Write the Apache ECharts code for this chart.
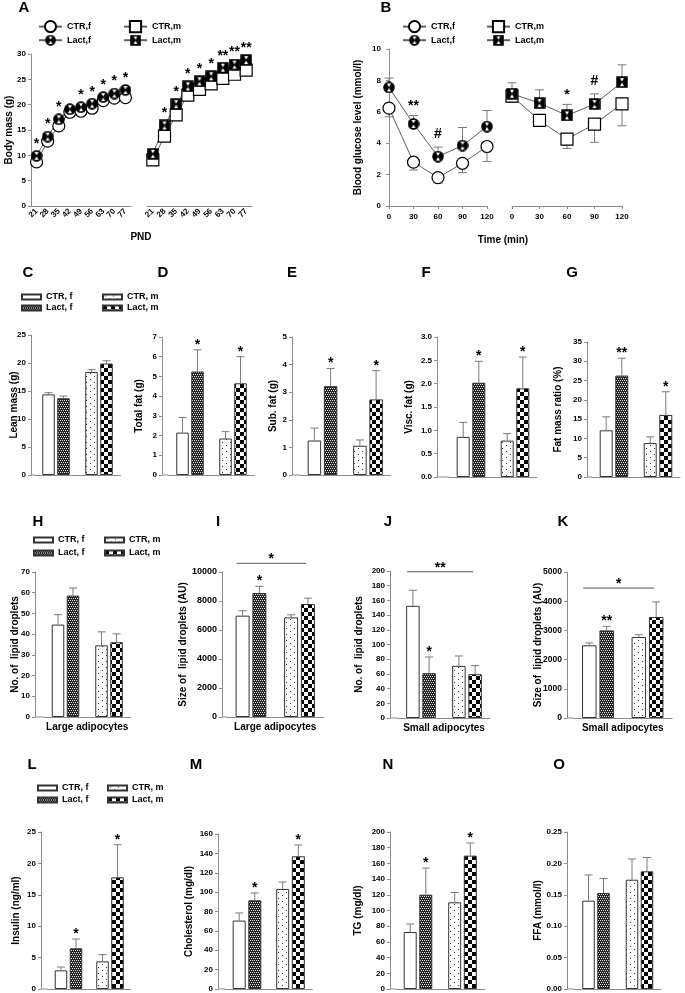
<!DOCTYPE html>
<html><head><meta charset="utf-8">
<script src="https://cdn.jsdelivr.net/npm/echarts@6/dist/echarts.min.js"></script>
<style>html,body{margin:0;padding:0;background:#fff}#c{width:685px;height:993px}</style>
</head><body><div id="c"></div>
<script>
// ================= DATA =================
// Panel A: body mass (g) by postnatal day
const pnd = ['21','28','35','42','49','56','63','70','77'];
const massCtrF  = [8.7, 12.8, 15.8, 18.5, 18.7, 19.3, 20.8, 21.3, 21.4];
const massLactF = [9.9, 13.7, 17.1, 19.1, 19.5, 20.2, 21.5, 22.2, 22.9];
const massCtrM  = [9.1, 13.8, 18.0, 21.9, 23.0, 24.1, 25.2, 26.0, 26.8];
const massLactM = [10.3, 15.9, 20.1, 23.6, 24.6, 25.6, 27.3, 27.9, 28.8];
const sigMassF = ['*','*','*','','*','*','*','*','*'];
const sigMassM = ['','*','*','*','*','*','**','**','**'];

// Panel B: blood glucose (mmol/l) over time (min)
const gttTime = [0, 30, 60, 90, 120];
const gluCtrF     = [6.23, 2.79, 1.81, 2.72, 3.79];
const gluCtrFErr  = [0.55, 0.50, 0.35, 0.60, 0.95];
const gluLactF    = [7.55, 5.23, 3.15, 3.85, 5.06];
const gluLactFErr = [0.60, 0.53, 0.60, 1.15, 1.02];
const gluCtrM     = [7.00, 5.45, 4.26, 5.21, 6.51];
const gluCtrMErr  = [0.40, 0.15, 0.60, 1.15, 1.40];
const gluLactM    = [7.15, 6.55, 5.77, 6.49, 7.89];
const gluLactMErr = [0.70, 0.85, 0.70, 0.65, 1.10];
const sigGluF = ['', '**', '#', '', ''];
const sigGluM = ['', '', '*', '#', ''];

// Bar panels: index 0 = female, 1 = male
const sexGroups = ['f', 'm'];
const leanCtr = [14.4, 18.4],  leanCtrErr = [0.3, 0.4],  leanLact = [13.7, 19.9], leanLactErr = [0.4, 0.5], leanSig = ['', ''];
const totCtr = [2.15, 1.85],   totCtrErr = [0.77, 0.35], totLact = [5.25, 4.65],  totLactErr = [1.1, 1.35], totSig = ['*', '*'];
const subCtr = [1.25, 1.06],   subCtrErr = [0.45, 0.21], subLact = [3.22, 2.74],  subLactErr = [0.64, 1.04], subSig = ['*', '*'];
const viscCtr = [0.86, 0.78],  viscCtrErr = [0.31, 0.15], viscLact = [2.02, 1.90], viscLactErr = [0.46, 0.67], viscSig = ['*', '*'];
const ratioCtr = [12.1, 8.8],  ratioCtrErr = [3.5, 1.6], ratioLact = [26.3, 16.1], ratioLactErr = [4.5, 6.0], ratioSig = ['**', '*'];
const nLargeCtr = [44.6, 34.6], nLargeCtrErr = [4.8, 6.5], nLargeLact = [58.6, 36.1], nLargeLactErr = [3.7, 4.0], nLargeSig = ['', ''];
const sLargeCtr = [6990, 6870], sLargeCtrErr = [340, 180], sLargeLact = [8550, 7790], sLargeLactErr = [460, 410], sLargeSig = ['*', ''];
const sLargeBracket = 10600, sLargeBracketSig = '*';
const nSmallCtr = [152.6, 70.9], nSmallCtrErr = [21.2, 13.5], nSmallLact = [61.0, 59.6], nSmallLactErr = [22.0, 11.7], nSmallSig = ['*', ''];
const nSmallBracket = 199, nSmallBracketSig = '**';
const sSmallCtr = [2490, 2775], sSmallCtrErr = [80, 80], sSmallLact = [3000, 3460], sSmallLactErr = [137, 515], sSmallSig = ['**', ''];
const sSmallBracket = 4450, sSmallBracketSig = '*';
const insCtr = [2.97, 4.4],    insCtrErr = [0.53, 1.07], insLact = [6.48, 17.78], insLactErr = [1.48, 5.2], insSig = ['*', '*'];
const cholCtr = [70.6, 103.3], cholCtrErr = [7.9, 7.2],  cholLact = [91.6, 137.0], cholLactErr = [7.5, 11.7], cholSig = ['*', '*'];
const tgCtr = [72.6, 110.4],   tgCtrErr = [10.2, 12.6],  tgLact = [120.2, 169.9], tgLactErr = [33.8, 16.1], tgSig = ['*', '*'];
const ffaCtr = [0.1406, 0.174], ffaCtrErr = [0.041, 0.033], ffaLact = [0.1529, 0.1874], ffaLactErr = [0.023, 0.022], ffaSig = ['', ''];

// ================= STYLE HELPERS =================
const FONT = 'Liberation Sans';
const AX = '#8c8c8c';
const ERR = '#7a7a7a';
const txt = (s) => ({ fontSize: s, fontWeight: 'bold', fontFamily: FONT, color: '#000' });

function tile(w, h, draw) {
  const c = document.createElement('canvas'); c.width = w; c.height = h;
  const g = c.getContext('2d'); draw(g); return c;
}
const patLactF = tile(4, 4, g => {
  g.fillStyle = '#262626'; g.fillRect(0, 0, 4, 4);
  g.fillStyle = '#e0e0e0'; g.fillRect(0, 0, 1, 1); g.fillRect(2, 0, 1, 1); g.fillRect(1, 2, 1, 1); g.fillRect(3, 2, 1, 1);
});
const patCtrM = tile(8, 6, g => {
  g.fillStyle = '#fff'; g.fillRect(0, 0, 8, 6);
  g.fillStyle = '#333'; g.fillRect(2, 1, 1, 1); g.fillRect(6, 4, 1, 1);
});
const patLactM = tile(8, 8, g => {
  g.fillStyle = '#fff'; g.fillRect(0, 0, 8, 8);
  g.fillStyle = '#000'; g.fillRect(0, 0, 4, 4); g.fillRect(4, 4, 4, 4);
});
const FILL = {
  ctrF: '#ffffff',
  lactF: { image: patLactF, repeat: 'repeat' },
  ctrM: { image: patCtrM, repeat: 'repeat' },
  lactM: { image: patLactM, repeat: 'repeat' }
};

function symbolImg(shape) {
  const c = document.createElement('canvas'); c.width = 24; c.height = 24;
  const g = c.getContext('2d');
  g.fillStyle = '#000';
  if (shape === 'circle') { g.beginPath(); g.arc(12, 12, 11.5, 0, Math.PI * 2); g.fill(); }
  else { g.fillRect(0.5, 0.5, 23, 23); }
  g.fillStyle = '#fff';
  g.beginPath(); g.moveTo(8, 4); g.lineTo(16, 4); g.lineTo(12, 11); g.closePath(); g.fill();
  g.beginPath(); g.moveTo(8, 20); g.lineTo(16, 20); g.lineTo(12, 13); g.closePath(); g.fill();
  return 'image://' + c.toDataURL();
}
const SYM_LACT_F = symbolImg('circle');
const SYM_LACT_M = symbolImg('square');

function starText(x, yCenter, s) {
  const isHash = s.indexOf('#') >= 0;
  return { type: 'text', x: x, y: yCenter + (isHash ? -1 : 3),
    style: { text: s, fontSize: 14, fontWeight: 'bold', fontFamily: FONT, fill: '#000', align: 'center', verticalAlign: 'middle' } };
}
function errItem(dir, dx, cap, sig, gap) {
  return function (params, api) {
    const x = api.value(0), v = api.value(1), e = api.value(2);
    const p0 = api.coord([x, v]), p1 = api.coord([x, v + dir * e]);
    const cx = p0[0] + dx;
    const ch = [];
    if (e > 0) {
      ch.push({ type: 'line', shape: { x1: cx, y1: p0[1], x2: cx, y2: p1[1] }, style: { stroke: ERR, lineWidth: 1 } });
      ch.push({ type: 'line', shape: { x1: cx - cap, y1: p1[1], x2: cx + cap, y2: p1[1] }, style: { stroke: ERR, lineWidth: 1 } });
    }
    const s = sig ? sig[params.dataIndex] : '';
    if (s) ch.push(starText(cx, Math.min(p0[1], p1[1]) - gap, s));
    return { type: 'group', children: ch };
  };
}

// ================= OPTION =================
const option = { animation: false, backgroundColor: '#fff', grid: [], xAxis: [], yAxis: [], series: [], legend: [], graphic: [] };
function addGrid(g) { option.grid.push(g); return option.grid.length - 1; }
function valueY(gi, o) {
  return Object.assign({
    gridIndex: gi, type: 'value', min: 0,
    axisLine: { show: true, lineStyle: { color: AX, width: 1 } },
    axisTick: { show: true, length: 3, lineStyle: { color: AX } },
    splitLine: { show: false },
    axisLabel: Object.assign(txt(8), { margin: 5, formatter: (v) => String(v) }),
    nameLocation: 'middle', nameMoveOverlap: false, nameTextStyle: txt(10)
  }, o);
}

// ---------- Panel A ----------
function massPanel(grid, ctr, lact, sig, names, syms, showY) {
  const gi = addGrid(grid);
  option.xAxis.push({ gridIndex: gi, type: 'category', data: pnd, boundaryGap: true,
    axisLine: { lineStyle: { color: AX } },
    axisTick: { alignWithLabel: true, length: 3, lineStyle: { color: AX } },
    axisLabel: Object.assign(txt(8), { rotate: 45, margin: 4, interval: 0 }) });
  option.yAxis.push(valueY(gi, { max: 30, interval: 5, show: showY, name: showY ? 'Body mass (g)' : '', nameGap: 17 }));
  const common = { type: 'line', xAxisIndex: gi, yAxisIndex: gi, symbolSize: 12, lineStyle: { color: '#606060', width: 1 }, emphasis: { disabled: true } };
  option.series.push(Object.assign({}, common, { name: names[0], data: ctr, symbol: syms[0], itemStyle: { color: '#fff', borderColor: '#000', borderWidth: 1.2 } }));
  option.series.push(Object.assign({}, common, { name: names[1], data: lact, symbol: syms[1], itemStyle: { color: '#000', borderColor: '#000' } }));
  option.series.push({ type: 'custom', xAxisIndex: gi, yAxisIndex: gi, z: 5,
    data: lact.map((v, i) => [i, v, 0]), renderItem: errItem(1, 0, 0, sig, 15) });
}
massPanel({ left: 31, top: 54, width: 100, height: 152 }, massCtrF, massLactF, sigMassF, ['CTR,f', 'Lact,f'], ['circle', SYM_LACT_F], true);
massPanel({ left: 147, top: 54, width: 105, height: 152 }, massCtrM, massLactM, sigMassM, ['CTR,m', 'Lact,m'], ['rect', SYM_LACT_M], false);

// ---------- Panel B ----------
function gluPanel(grid, ctr, ctrErr, lact, lactErr, sig, names, syms, showY) {
  const gi = addGrid(grid);
  option.xAxis.push({ gridIndex: gi, type: 'value', min: 0, max: 120, interval: 30,
    axisLine: { lineStyle: { color: AX } }, splitLine: { show: false },
    axisTick: { show: true, length: 3, lineStyle: { color: AX } },
    axisLabel: Object.assign(txt(8), { margin: 7 }) });
  option.yAxis.push(valueY(gi, { max: 10, interval: 2, show: showY, offset: 4,
    axisLabel: Object.assign(txt(8), { margin: 4 }),
    name: showY ? 'Blood glucose level (mmol/l)' : '', nameGap: 22 }));
  option.series.push({ type: 'custom', xAxisIndex: gi, yAxisIndex: gi, z: 1,
    data: gttTime.map((t, i) => [t, ctr[i], ctrErr[i]]), renderItem: errItem(-1, 0, 4.5, null, 0) });
  option.series.push({ type: 'custom', xAxisIndex: gi, yAxisIndex: gi, z: 1,
    data: gttTime.map((t, i) => [t, lact[i], lactErr[i]]), renderItem: errItem(1, 0, 4.5, sig, 12) });
  const common = { type: 'line', xAxisIndex: gi, yAxisIndex: gi, symbolSize: 12, z: 3, lineStyle: { color: '#606060', width: 1 }, emphasis: { disabled: true } };
  option.series.push(Object.assign({}, common, { name: names[0], data: gttTime.map((t, i) => [t, ctr[i]]), symbol: syms[0], itemStyle: { color: '#fff', borderColor: '#000', borderWidth: 1.2 } }));
  option.series.push(Object.assign({}, common, { name: names[1], data: gttTime.map((t, i) => [t, lact[i]]), symbol: syms[1], itemStyle: { color: '#000', borderColor: '#000' } }));
}
gluPanel({ left: 389, top: 49, width: 98, height: 157 }, gluCtrF, gluCtrFErr, gluLactF, gluLactFErr, sigGluF, ['CTR,f', 'Lact,f'], ['circle', SYM_LACT_F], true);
gluPanel({ left: 512, top: 49, width: 110, height: 157 }, gluCtrM, gluCtrMErr, gluLactM, gluLactMErr, sigGluM, ['CTR,m', 'Lact,m'], ['rect', SYM_LACT_M], false);

// line legends
function lineLegend(names, left, top) {
  option.legend.push({ data: names, left: left, top: top, orient: 'vertical', padding: 0, itemGap: 1,
    itemWidth: 23, itemHeight: 14, selectedMode: false, textStyle: Object.assign(txt(9), { lineHeight: 12 }) });
}
lineLegend(['CTR,f', 'Lact,f'], 38, 20);
lineLegend(['CTR,m', 'Lact,m'], 123, 20);
lineLegend(['CTR,f', 'Lact,f'], 402, 20);
lineLegend(['CTR,m', 'Lact,m'], 486, 20);

// ---------- Bar panels ----------
function barPanel(p) {
  const gi = addGrid({ left: p.left, top: p.top, width: p.width, height: p.height });
  option.xAxis.push({ gridIndex: gi, type: 'category', data: sexGroups,
    axisLine: { lineStyle: { color: AX } }, axisTick: { show: false }, axisLabel: { show: false },
    name: p.xName || '', nameLocation: 'middle', nameGap: 5, nameTextStyle: txt(10) });
  option.yAxis.push(valueY(gi, { max: p.max, interval: p.step, offset: p.yOff, name: p.name, nameGap: p.nameGap,
    axisLabel: Object.assign(txt(p.fs || 8), { margin: 5, formatter: p.fmt ? (v) => v.toFixed(p.fmt) : (v) => String(v) }) }));
  const bw = p.bw, off = bw * 0.6;
  const mk = (name, stack, data, color) => ({ type: 'bar', name: name, stack: stack + gi, data: data,
    xAxisIndex: gi, yAxisIndex: gi, barWidth: bw, barGap: '20%', emphasis: { disabled: true },
    itemStyle: { color: color, borderColor: '#333', borderWidth: 1 } });
  option.series.push(mk('CTR, f', 'c', [p.ctr[0], '-'], FILL.ctrF));
  option.series.push(mk('CTR, m', 'c', ['-', p.ctr[1]], FILL.ctrM));
  option.series.push(mk('Lact, f', 'l', [p.lact[0], '-'], FILL.lactF));
  option.series.push(mk('Lact, m', 'l', ['-', p.lact[1]], FILL.lactM));
  option.series.push({ type: 'custom', xAxisIndex: gi, yAxisIndex: gi, z: 4,
    data: p.ctr.map((v, i) => [i, v, p.ctrErr[i]]), renderItem: errItem(1, -off, 4, null, 0) });
  option.series.push({ type: 'custom', xAxisIndex: gi, yAxisIndex: gi, z: 4,
    data: p.lact.map((v, i) => [i, v, p.lactErr[i]]), renderItem: errItem(1, off, 4, p.sig, 8) });
  if (p.bracket !== undefined) {
    option.series.push({ type: 'custom', xAxisIndex: gi, yAxisIndex: gi, z: 4,
      data: [[0, p.bracket]],
      renderItem: function (params, api) {
        const y = api.value(1);
        const a = api.coord([0, y]), b = api.coord([1, y]);
        const x1 = a[0] - off - bw / 2 + 1, x2 = b[0] + off - 2;
        return { type: 'group', children: [
          { type: 'line', shape: { x1: x1, y1: a[1], x2: x2, y2: a[1] }, style: { stroke: '#555', lineWidth: 1 } },
          starText((x1 + x2) / 2, a[1] - 7, p.bracketSig)
        ] };
      } });
  }
  // extend x axis line back to the (offset) y axis
  const base = p.top + p.height;
  option.graphic.push({ type: 'line', shape: { x1: p.left - p.yOff, y1: base, x2: p.left, y2: base }, style: { stroke: AX, lineWidth: 1 }, silent: true });
}

// Row C-G
barPanel({ left: 34.5, top: 335, width: 86, height: 140, yOff: 3.5, bw: 12.5, max: 25, step: 5, name: 'Lean mass (g)', nameGap: 12,
  ctr: leanCtr, ctrErr: leanCtrErr, lact: leanLact, lactErr: leanLactErr, sig: leanSig });
barPanel({ left: 168.5, top: 337, width: 86, height: 138, yOff: 6.5, bw: 12.5, max: 7, step: 1, name: 'Total fat (g)', nameGap: 18,
  ctr: totCtr, ctrErr: totCtrErr, lact: totLact, lactErr: totLactErr, sig: totSig });
barPanel({ left: 299.75, top: 337, width: 91, height: 138, yOff: 7.75, bw: 13.5, max: 5, step: 1, name: 'Sub. fat (g)', nameGap: 14,
  ctr: subCtr, ctrErr: subCtrErr, lact: subLact, lactErr: subLactErr, sig: subSig });
barPanel({ left: 449, top: 337, width: 88, height: 140, yOff: 12, bw: 13, max: 3, step: 0.5, fmt: 1, name: 'Visc. fat (g)', nameGap: 23,
  ctr: viscCtr, ctrErr: viscCtrErr, lact: viscLact, lactErr: viscLactErr, sig: viscSig });
barPanel({ left: 592, top: 342, width: 88, height: 135, yOff: 5, bw: 13, max: 35, step: 5, name: 'Fat mass ratio (%)', nameGap: 24,
  ctr: ratioCtr, ctrErr: ratioCtrErr, lact: ratioLact, lactErr: ratioLactErr, sig: ratioSig });
// Row H-K
barPanel({ left: 43.75, top: 572, width: 87, height: 145, yOff: 8.75, bw: 12.5, max: 70, step: 10, name: 'No. of  lipid droplets', nameGap: 15,
  ctr: nLargeCtr, ctrErr: nLargeCtrErr, lact: nLargeLact, lactErr: nLargeLactErr, sig: nLargeSig, xName: 'Large adipocytes' });
barPanel({ left: 226.75, top: 572, width: 97, height: 145, yOff: 4.75, bw: 14, fs: 9, max: 10000, step: 2000, name: 'Size of  lipid droplets (AU)', nameGap: 34,
  ctr: sLargeCtr, ctrErr: sLargeCtrErr, lact: sLargeLact, lactErr: sLargeLactErr, sig: sLargeSig, xName: 'Large adipocytes',
  bracket: sLargeBracket, bracketSig: sLargeBracketSig });
barPanel({ left: 398, top: 571, width: 92, height: 147, yOff: 8, bw: 13.5, max: 200, step: 20, name: 'No. of  lipid droplets', nameGap: 26,
  ctr: nSmallCtr, ctrErr: nSmallCtrErr, lact: nSmallLact, lactErr: nSmallLactErr, sig: nSmallSig, xName: 'Small adipocytes',
  bracket: nSmallBracket, bracketSig: nSmallBracketSig });
barPanel({ left: 573.25, top: 572, width: 99, height: 146, yOff: 6.25, bw: 14.5, fs: 8.5, max: 5000, step: 1000, name: 'Size of  lipid droplets (AU)', nameGap: 24,
  ctr: sSmallCtr, ctrErr: sSmallCtrErr, lact: sSmallLact, lactErr: sSmallLactErr, sig: sSmallSig, xName: 'Small adipocytes',
  bracket: sSmallBracket, bracketSig: sSmallBracketSig });
// Row L-O
barPanel({ left: 47.75, top: 832, width: 83, height: 157, yOff: 6.75, bw: 12.5, max: 25, step: 5, name: 'Insulin (ng/ml)', nameGap: 20,
  ctr: insCtr, ctrErr: insCtrErr, lact: insLact, lactErr: insLactErr, sig: insSig });
barPanel({ left: 225.25, top: 834, width: 87, height: 155, yOff: 7.25, bw: 13, max: 160, step: 20, name: 'Cholesterol (mg/dl)', nameGap: 24,
  ctr: cholCtr, ctrErr: cholCtrErr, lact: cholLact, lactErr: cholLactErr, sig: cholSig });
barPanel({ left: 395.75, top: 832, width: 89, height: 157, yOff: 5.75, bw: 13, max: 200, step: 20, name: 'TG (mg/dl)', nameGap: 27,
  ctr: tgCtr, ctrErr: tgCtrErr, lact: tgLact, lactErr: tgLactErr, sig: tgSig });
barPanel({ left: 574.25, top: 832, width: 87, height: 157, yOff: 7.25, bw: 12.5, max: 0.25, step: 0.05, fmt: 2, name: 'FFA (mmol/l)', nameGap: 24,
  ctr: ffaCtr, ctrErr: ffaCtrErr, lact: ffaLact, lactErr: ffaLactErr, sig: ffaSig });

// bar legends
function barLegend(names, left, top, gap) {
  option.legend.push({ data: names, left: left, top: top, orient: 'vertical', padding: 0, itemGap: gap, icon: 'rect',
    itemWidth: 19, itemHeight: 5, selectedMode: false, textStyle: Object.assign(txt(9), { lineHeight: 10 }) });
}
barLegend(['CTR, f', 'Lact, f'], 21, 292, 1);
barLegend(['CTR, m', 'Lact, m'], 102, 292, 1);
barLegend(['CTR, f', 'Lact, f'], 33, 535, 3);
barLegend(['CTR, m', 'Lact, m'], 104, 535, 3);
barLegend(['CTR, f', 'Lact, f'], 37, 783, 2);
barLegend(['CTR, m', 'Lact, m'], 107, 783, 2);

// panel letters and shared axis titles
const letters = [['A', 24, 8], ['B', 386, 8], ['C', 28, 273], ['D', 163, 273], ['E', 292, 273], ['F', 426, 273], ['G', 572, 273],
  ['H', 38, 522], ['I', 218, 522], ['J', 388, 522], ['K', 563, 522], ['L', 32, 765], ['M', 196, 765], ['N', 388, 765], ['O', 559, 765]];
letters.forEach(l => option.graphic.push({ type: 'text', x: l[1], y: l[2], silent: true,
  style: { text: l[0], fontSize: 15, fontWeight: 'bold', fontFamily: FONT, fill: '#000', align: 'center', verticalAlign: 'middle' } }));
option.graphic.push({ type: 'text', x: 141, y: 237, silent: true, style: { text: 'PND', fontSize: 10, fontWeight: 'bold', fontFamily: FONT, fill: '#000', align: 'center', verticalAlign: 'middle' } });
option.graphic.push({ type: 'text', x: 503, y: 240, silent: true, style: { text: 'Time (min)', fontSize: 10, fontWeight: 'bold', fontFamily: FONT, fill: '#000', align: 'center', verticalAlign: 'middle' } });

const chart = echarts.init(document.getElementById('c'), null, { renderer: 'canvas' });
chart.setOption(option);
</script>
</body></html>
